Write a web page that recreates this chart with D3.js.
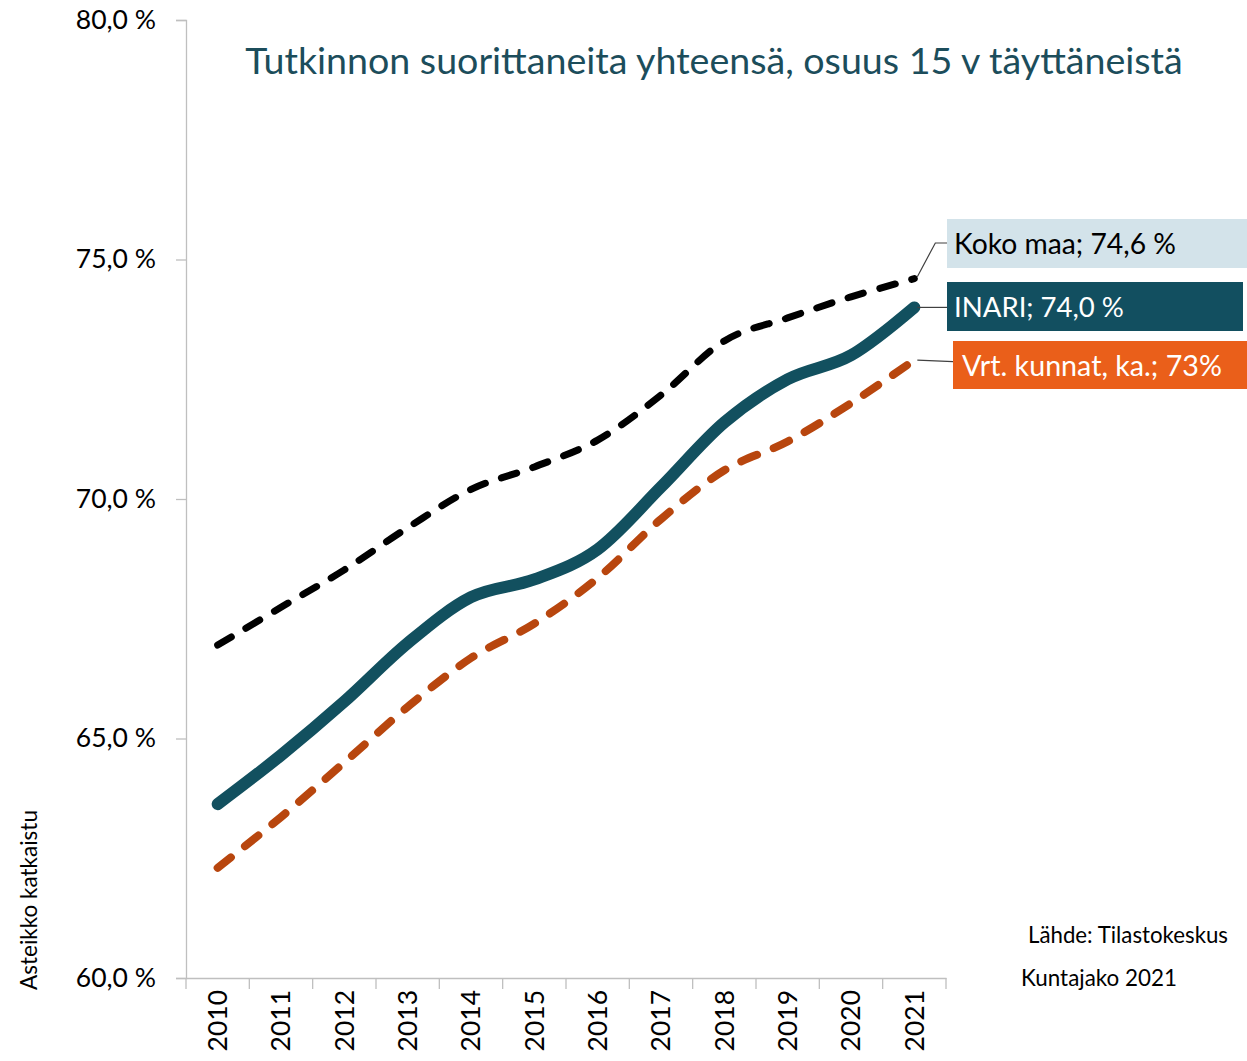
<!DOCTYPE html>
<html>
<head>
<meta charset="utf-8">
<script src="https://cdn.jsdelivr.net/npm/d3@7/dist/d3.min.js"></script>
<style>
  body { margin: 0; background: #fff; }
  svg { display: block; font-family: Lato, "Open Sans", sans-serif; }
</style>
</head>
<body>
<div id="chart"></div>
<script>
// chart data
var years = ['2010', '2011', '2012', '2013', '2014', '2015', '2016', '2017', '2018', '2019', '2020', '2021'];
var kokoMaa = [66.95, 67.74, 68.52, 69.4, 70.2, 70.67, 71.23, 72.17, 73.3, 73.78, 74.22, 74.6];
var inari = [63.63, 64.65, 65.77, 66.99, 67.95, 68.32, 68.95, 70.25, 71.6, 72.5, 73.0, 74.0];
var vrtKunnat = [62.3, 63.36, 64.5, 65.66, 66.68, 67.4, 68.35, 69.58, 70.6, 71.2, 72.0, 72.9];
var yTicks = [60, 65, 70, 75, 80];
var seriesLabels = ['Koko maa; 74,6 %', 'INARI; 74,0 %', 'Vrt. kunnat, ka.; 73%'];
var titleText = 'Tutkinnon suorittaneita yhteensä, osuus 15 v täyttäneistä';

var width = 1247, height = 1061;

//create svg
var svg = d3.select('#chart').append('svg')
    .attr('width', width)
    .attr('height', height);

//scales
var x = d3.scaleBand().domain(years).range([186, 946]).padding(0);
var y = d3.scaleLinear().domain([60, 80]).range([978, 20]);
var xc = function (d) { return x(d) + x.bandwidth() / 2; };

//fits a text node into given width by changing font size
var fitWidth = function (sel, w) {
    var node = sel.node(), size = parseFloat(sel.attr('font-size'));
    var len = node.getComputedTextLength();
    if (len > 0) sel.attr('font-size', (size * w / len).toFixed(2));
};

//y axis
var yAxis = svg.append('g')
    .attr('transform', 'translate(186,0)')
    .call(d3.axisLeft(y).tickValues(yTicks).tickSize(10).tickPadding(20)
        .tickFormat(function (d) { return d3.format('.1f')(d).replace('.', ',') + ' %'; }));
yAxis.selectAll('.domain, line').attr('stroke', '#bfbfbf').attr('stroke-width', 1.3);
yAxis.selectAll('text').attr('font-size', 26.5).attr('font-family', 'Lato').attr('fill', '#000');

//x axis
var xAxis = svg.append('g')
    .attr('transform', 'translate(0,978)')
    .call(d3.axisBottom(x).tickSize(0).tickSizeOuter(0));
xAxis.select('.domain').attr('stroke', '#bfbfbf').attr('stroke-width', 1.3);
xAxis.selectAll('text')
    .attr('font-size', 26.5).attr('font-family', 'Lato').attr('fill', '#000')
    .attr('text-anchor', 'end')
    .attr('transform', 'rotate(-90)')
    .attr('x', -12).attr('y', 0).attr('dy', '0.35em');

//category boundary ticks
svg.append('g').selectAll('line')
    .data(years.concat(['end']))
    .enter().append('line')
    .attr('x1', function (d, i) { return i < years.length ? x(d) : x.range()[1]; })
    .attr('x2', function (d, i) { return i < years.length ? x(d) : x.range()[1]; })
    .attr('y1', 978).attr('y2', 989)
    .attr('stroke', '#bfbfbf').attr('stroke-width', 1.3);

//series definitions
var series = [
    { values: kokoMaa, color: '#000000', width: 7, dash: '16,17' },
    { values: vrtKunnat, color: '#b8460e', width: 8, dash: '17,18' },
    { values: inari, color: '#12505f', width: 12, dash: null }
];

var line = d3.line()
    .x(function (d, i) { return xc(years[i]); })
    .y(function (d) { return y(d); })
    .curve(d3.curveCatmullRom.alpha(0));

svg.append('g').selectAll('path')
    .data(series)
    .enter().append('path')
    .attr('d', function (s) { return line(s.values); })
    .attr('fill', 'none')
    .attr('stroke', function (s) { return s.color; })
    .attr('stroke-width', function (s) { return s.width; })
    .attr('stroke-linecap', 'round')
    .attr('stroke-linejoin', 'round')
    .attr('stroke-dasharray', function (s) { return s.dash; });

//end labels
var last = years.length - 1, endX = xc(years[last]);
var labels = [
    { value: kokoMaa[last], text: seriesLabels[0], box: [947, 219, 300, 49], fill: '#d3e3ea', color: '#000', tx: 954, ty: 254, bend: 243, tw: 222 },
    { value: inari[last], text: seriesLabels[1], box: [947, 282, 296, 49], fill: '#124f60', color: '#fff', tx: 954, ty: 317, bend: null, tw: 170 },
    { value: vrtKunnat[last], text: seriesLabels[2], box: [953, 341, 294, 48], fill: '#ea5f1a', color: '#fff', tx: 962, ty: 376, bend: null, tw: 260 }
];

var lg = svg.append('g');
labels.forEach(function (l) {
    var py = y(l.value);
    var pts = l.bend !== null ?
        [[endX + 3, py - 2], [endX + 21, l.bend], [l.box[0], l.bend]] :
        [[endX + 3, py], [l.box[0], py + (l.box[1] > 335 ? 1.5 : 0)]];
    lg.append('path')
        .attr('d', d3.line()(pts))
        .attr('fill', 'none')
        .attr('stroke', '#404040')
        .attr('stroke-width', 1.2);
    lg.append('rect')
        .attr('x', l.box[0]).attr('y', l.box[1])
        .attr('width', l.box[2]).attr('height', l.box[3])
        .attr('fill', l.fill);
    var t = lg.append('text')
        .attr('x', l.tx).attr('y', l.ty)
        .attr('font-size', 26)
        .attr('fill', l.color)
        .text(l.text);
    fitWidth(t, l.tw);
});

//title
var title = svg.append('text')
    .attr('x', 714).attr('y', 74)
    .attr('text-anchor', 'middle')
    .attr('font-size', 30)
    .attr('fill', '#1c4d5b')
    .text(titleText);
fitWidth(title, 938);

//axis title
var axisTitle = svg.append('text')
    .attr('transform', 'translate(37,900) rotate(-90)')
    .attr('text-anchor', 'middle')
    .attr('font-size', 20)
    .attr('fill', '#000')
    .text('Asteikko katkaistu');
fitWidth(axisTitle, 180);

//source notes
var src = svg.append('text')
    .attr('x', 1028).attr('y', 943)
    .attr('font-size', 21)
    .attr('fill', '#000')
    .text('Lähde: Tilastokeskus');
fitWidth(src, 200);
var div = svg.append('text')
    .attr('x', 1021).attr('y', 986)
    .attr('font-size', 21)
    .attr('fill', '#000')
    .text('Kuntajako 2021');
fitWidth(div, 156);
</script>
</body>
</html>
